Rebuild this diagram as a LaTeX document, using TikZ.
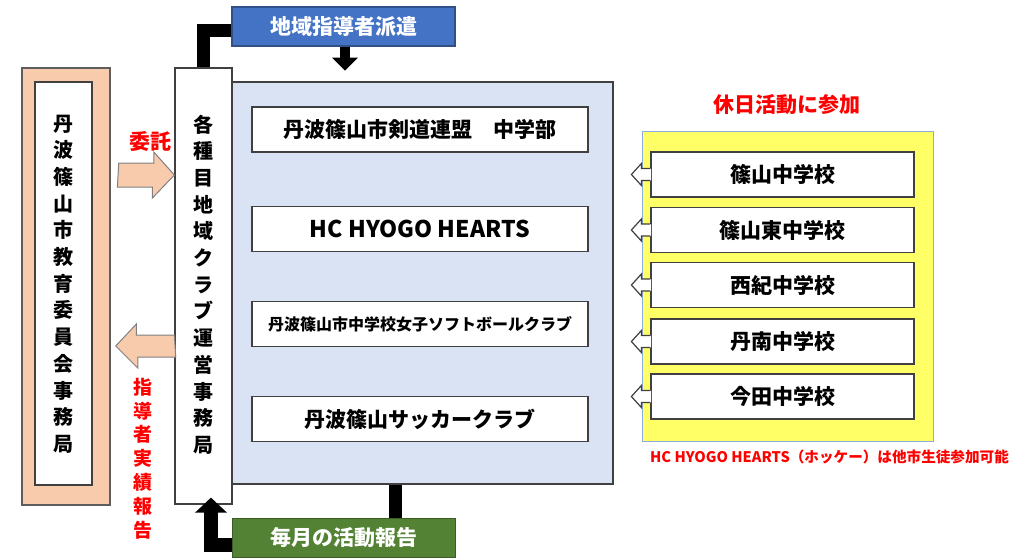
\documentclass[tikz,border=0pt]{standalone}
\usepackage{fontspec}
\setmainfont{Noto Sans CJK JP}
\usetikzlibrary{arrows.meta,calc}
\definecolor{peach}{HTML}{F8CBAD}
\definecolor{paleblue}{HTML}{DAE3F3}
\definecolor{dispatchblue}{HTML}{4472C4}
\definecolor{reportgreen}{HTML}{548235}
\definecolor{schoolyellow}{HTML}{FFFF66}
\definecolor{edgegray}{HTML}{404040}
\definecolor{yellowedge}{HTML}{8FAADC}

\begin{document}
\begin{tikzpicture}[x=1pt,y=-1pt,
  box/.style={draw=edgegray, line width=1.2pt, inner sep=0pt},
  clubbox/.style={box, fill=white, minimum width=336, minimum height=45, font=\bfseries\fontsize{21}{24}\selectfont},
  schoolbox/.style={box, fill=white, minimum width=263, minimum height=45, font=\bfseries\fontsize{21}{24}\selectfont},
  vtext/.style={align=center, inner sep=0pt, font=\bfseries\fontsize{20}{26.7}\selectfont},
  tagbox/.style={box, minimum width=223, minimum height=39, text=white, font=\bfseries\fontsize{21}{24}\selectfont},
  redtext/.style={text=red, inner sep=0pt, font=\bfseries\fontsize{21}{24}\selectfont},
  blockarrow/.style={fill=peach, draw=gray, line width=1pt, line join=miter},
  blackline/.style={draw=black, line width=13pt, line join=miter},
  notch/.style={draw=edgegray, line width=1.2pt}]
\useasboundingbox (0,0) rectangle (1025,558);

% board of education
\node[box, draw=edgegray!85, line width=1.5pt, fill=peach, minimum width=88, minimum height=437] (boe) at (66,286.5) {};
\node[box, fill=white, minimum width=57, minimum height=403] (boein) at (63.5,283.5) {};
\node[vtext] (boetext) at (63.5,284) {丹\\波\\篠\\山\\市\\教\\育\\委\\員\\会\\事\\務\\局};

% club office
\node[box, fill=paleblue, minimum width=381, minimum height=402] (clubs) at (422.5,283) {};
\node[box, fill=white, minimum width=57, minimum height=436] (office) at (203.5,286) {};
\node[vtext] (officetext) at (203.5,284.5) {各\\種\\目\\地\\域\\ク\\ラ\\ブ\\運\\営\\事\\務\\局};

\node[clubbox] (kendo) at (420,129.5) {丹波篠山市剣道連盟\hspace{1em}中学部};
\node[clubbox, font=\bfseries\fontsize{23}{26}\selectfont] (hockey) at (420,229) {HC HYOGO HEARTS};
\node[clubbox, font=\bfseries\fontsize{16}{18}\selectfont] (softball) at (420,324) {丹波篠山市中学校女子ソフトボールクラブ};
\node[clubbox] (soccer) at (420,419) {丹波篠山サッカークラブ};

% dispatch and report
\node[tagbox, fill=dispatchblue, draw=dispatchblue!70!black] (dispatch) at (343.5,26.5) {地域指導者派遣};
\node[tagbox, fill=reportgreen, draw=reportgreen!70!black] (report) at (344,538) {毎月の活動報告};

\draw[blackline] (dispatch.west |- 0,30) -| (office.north);
\draw[blackline, line width=10pt, -{Triangle[length=13pt,width=25pt]}] (dispatch.south -| 345,0) -- ++(0,24);
\draw[blackline] (clubs.south -| 395,0) -- (report.north -| 395,0);
\draw[blackline, line width=14pt, -{Triangle[length=15pt,width=31pt]}] (report.west |- 0,545) -| ($(office.south)+(7.5,-7)$);

% entrust / results
\draw[blockarrow] ($(boe.east |- 0,163)+(8,0)$) -- ++(35,0) -- ++(0,-11) -- (office.west |- 0,175) -- ++(-22,23) -- ++(0,-11) -- ++(-35,0) -- cycle;
\draw[blockarrow] (office.west |- 0,335) -- ++(-38,0) -- ++(0,-11) -- ($(boe.east |- 0,346)+(5,0)$) -- ++(22,22) -- ++(0,-11) -- ++(38,0) -- cycle;
\node[redtext] (entrust) at (150,142) {委託};
\node[redtext, vtext, text=red, font=\bfseries\fontsize{19}{23.8}\selectfont] (results) at (143,458.5) {指\\導\\者\\実\\績\\報\\告};

% schools
\node[redtext] (holiday) at (787,105) {休日活動に参加};
\node[draw=yellowedge, line width=0.8pt, fill=schoolyellow, minimum width=291, minimum height=310, inner sep=0pt] (schools) at (787.5,286) {};
\foreach \name/\y [count=\i] in {篠山中学校/174.5, 篠山東中学校/230, 西紀中学校/285, 丹南中学校/341.5, 今田中学校/396.5} {
  \node[schoolbox] (school\i) at (782.5,\y) {\name};
  \fill[white] ($(school\i.west)+(0.8,-6)$) -- ++(-9.8,0) -- ++(0,-5) -- ++(-10,11) -- ++(10,11) -- ++(0,-5) -- ++(9.8,0) -- cycle;
  \draw[notch] ($(school\i.west)+(0,-6)$) -- ++(-9,0) -- ++(0,-5) -- ++(-10,11) -- ++(10,11) -- ++(0,-5) -- ++(9,0);
}
\node[redtext, font=\bfseries\fontsize{14.6}{16}\selectfont] (note) at (829.5,457) {HC HYOGO HEARTS（ホッケー）は他市生徒参加可能};
\end{tikzpicture}
\end{document}
